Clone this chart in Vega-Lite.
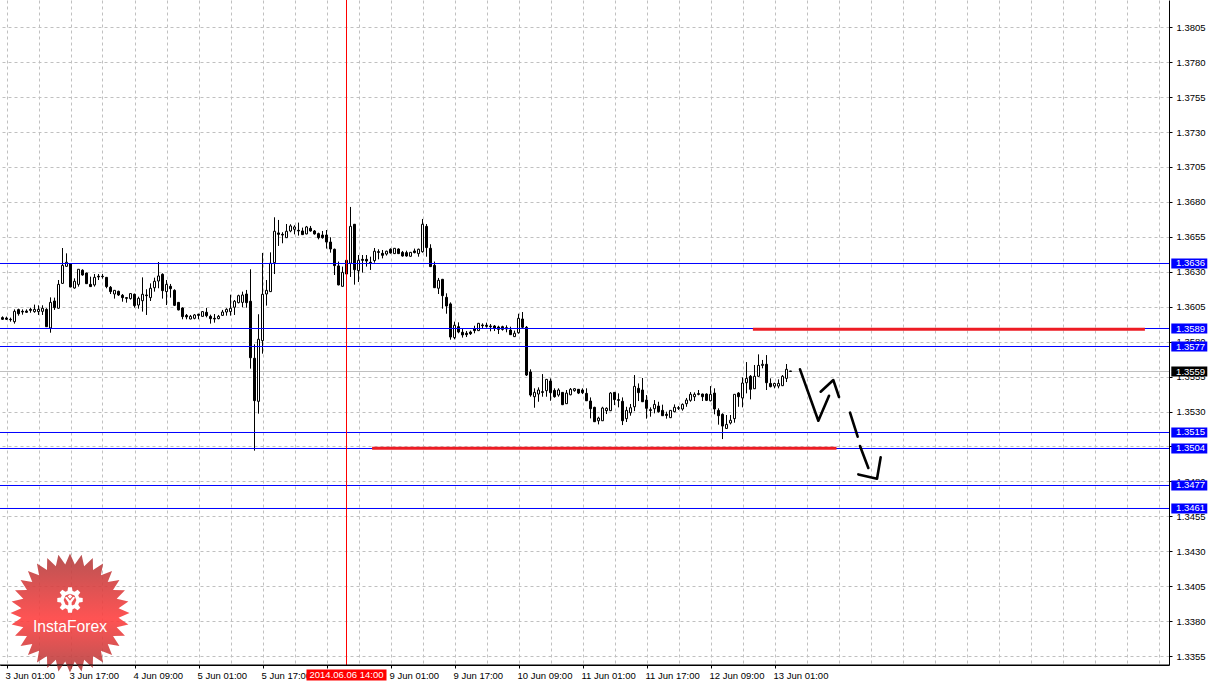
{"$schema":"https://vega.github.io/schema/vega-lite/v6.json","width":1169,"height":665,"autosize":"none","padding":{"left":0,"top":0,"right":42,"bottom":19},"background":"white","view":{"stroke":null},
"config":{"font":"Liberation Sans","axis":{"labelFont":"Liberation Sans","labelFontSize":9.5,"labelColor":"#000000"}},
"datasets":{
"candles":[
{"i":-1,"o":1.35972,"h":1.35981,"l":1.35955,"c":1.3596},{"i":0,"o":1.35969,"h":1.35979,"l":1.35955,"c":1.3596},{"i":1,"o":1.3596,"h":1.35972,"l":1.35943,"c":1.35957},{"i":2,"o":1.35943,"h":1.36031,"l":1.35929,"c":1.36017},{"i":3,"o":1.36029,"h":1.36036,"l":1.35986,"c":1.36},{"i":4,"o":1.36017,"h":1.36031,"l":1.35993,"c":1.36012},{"i":5,"o":1.36019,"h":1.36031,"l":1.36007,"c":1.3601},{"i":6,"o":1.36031,"h":1.36043,"l":1.36007,"c":1.36024},{"i":7,"o":1.36015,"h":1.36065,"l":1.36007,"c":1.36031},{"i":8,"o":1.36015,"h":1.3606,"l":1.35991,"c":1.36031},{"i":9,"o":1.36017,"h":1.3606,"l":1.35991,"c":1.36039},{"i":10,"o":1.36031,"h":1.36039,"l":1.35905,"c":1.35907},{"i":11,"o":1.35898,"h":1.36117,"l":1.35864,"c":1.36081},{"i":12,"o":1.36091,"h":1.36115,"l":1.36027,"c":1.36043},{"i":13,"o":1.36039,"h":1.36241,"l":1.36036,"c":1.3621},{"i":14,"o":1.36217,"h":1.3647,"l":1.36215,"c":1.36346},{"i":15,"o":1.36339,"h":1.36432,"l":1.36337,"c":1.36368},{"i":16,"o":1.36356,"h":1.36361,"l":1.36189,"c":1.36191},{"i":17,"o":1.36184,"h":1.36253,"l":1.36179,"c":1.36232},{"i":18,"o":1.3621,"h":1.36318,"l":1.36194,"c":1.36318},{"i":19,"o":1.36311,"h":1.36318,"l":1.36272,"c":1.36277},{"i":20,"o":1.36291,"h":1.36294,"l":1.36213,"c":1.36215},{"i":21,"o":1.3621,"h":1.36265,"l":1.36191,"c":1.36194},{"i":22,"o":1.36206,"h":1.36284,"l":1.36194,"c":1.3626},{"i":23,"o":1.36268,"h":1.36284,"l":1.36241,"c":1.36263},{"i":24,"o":1.36268,"h":1.36284,"l":1.36251,"c":1.36265},{"i":25,"o":1.3626,"h":1.36263,"l":1.36182,"c":1.36194},{"i":26,"o":1.36189,"h":1.36198,"l":1.36141,"c":1.36158},{"i":27,"o":1.36141,"h":1.3617,"l":1.36108,"c":1.36167},{"i":28,"o":1.3616,"h":1.36165,"l":1.36127,"c":1.36134},{"i":29,"o":1.36132,"h":1.36141,"l":1.36086,"c":1.36115},{"i":30,"o":1.36115,"h":1.36117,"l":1.36079,"c":1.3611},{"i":31,"o":1.36108,"h":1.36146,"l":1.36101,"c":1.36144},{"i":32,"o":1.36139,"h":1.36144,"l":1.36043,"c":1.36058},{"i":33,"o":1.36062,"h":1.36122,"l":1.36036,"c":1.3611},{"i":34,"o":1.36093,"h":1.3626,"l":1.36015,"c":1.36139},{"i":35,"o":1.36134,"h":1.36175,"l":1.35991,"c":1.36129},{"i":36,"o":1.36115,"h":1.36217,"l":1.36091,"c":1.36182},{"i":37,"o":1.36186,"h":1.36258,"l":1.36158,"c":1.36232},{"i":38,"o":1.36234,"h":1.3637,"l":1.36182,"c":1.3627},{"i":39,"o":1.36282,"h":1.36289,"l":1.36108,"c":1.36165},{"i":40,"o":1.36158,"h":1.36241,"l":1.36062,"c":1.3621},{"i":41,"o":1.36196,"h":1.36213,"l":1.36115,"c":1.36179},{"i":42,"o":1.36167,"h":1.36175,"l":1.36055,"c":1.3606},{"i":43,"o":1.36081,"h":1.36084,"l":1.36024,"c":1.36027},{"i":44,"o":1.36041,"h":1.36046,"l":1.3596,"c":1.35979},{"i":45,"o":1.35988,"h":1.35998,"l":1.3596,"c":1.35977},{"i":46,"o":1.35962,"h":1.35991,"l":1.3596,"c":1.35981},{"i":47,"o":1.35967,"h":1.35998,"l":1.3596,"c":1.35991},{"i":48,"o":1.35996,"h":1.36,"l":1.3596,"c":1.35988},{"i":49,"o":1.35981,"h":1.36019,"l":1.35979,"c":1.36015},{"i":50,"o":1.3601,"h":1.36041,"l":1.35974,"c":1.35986},{"i":51,"o":1.35981,"h":1.35993,"l":1.35929,"c":1.35965},{"i":52,"o":1.35967,"h":1.35998,"l":1.35936,"c":1.35962},{"i":53,"o":1.35965,"h":1.35991,"l":1.3596,"c":1.35981},{"i":54,"o":1.35988,"h":1.36027,"l":1.35984,"c":1.36012},{"i":55,"o":1.36012,"h":1.36039,"l":1.35986,"c":1.36031},{"i":56,"o":1.36015,"h":1.36136,"l":1.35986,"c":1.36039},{"i":57,"o":1.36046,"h":1.36098,"l":1.35991,"c":1.36089},{"i":58,"o":1.36079,"h":1.36136,"l":1.36074,"c":1.36129},{"i":59,"o":1.36081,"h":1.36158,"l":1.36046,"c":1.36134},{"i":60,"o":1.36141,"h":1.3617,"l":1.36043,"c":1.36079},{"i":61,"o":1.36089,"h":1.36318,"l":1.35607,"c":1.35685},{"i":62,"o":1.35681,"h":1.35781,"l":1.3502,"c":1.35378},{"i":63,"o":1.35373,"h":1.35996,"l":1.35285,"c":1.35817},{"i":64,"o":1.35807,"h":1.36435,"l":1.35714,"c":1.36139},{"i":65,"o":1.36141,"h":1.36241,"l":1.36058,"c":1.36167},{"i":66,"o":1.36158,"h":1.36439,"l":1.36155,"c":1.36361},{"i":67,"o":1.36365,"h":1.3669,"l":1.36284,"c":1.3659},{"i":68,"o":1.36578,"h":1.36671,"l":1.36485,"c":1.36568},{"i":69,"o":1.36568,"h":1.36583,"l":1.36504,"c":1.36563},{"i":70,"o":1.36544,"h":1.36642,"l":1.36542,"c":1.3659},{"i":71,"o":1.36592,"h":1.3664,"l":1.36583,"c":1.36628},{"i":72,"o":1.36604,"h":1.36633,"l":1.36568,"c":1.36621},{"i":73,"o":1.36597,"h":1.36652,"l":1.36559,"c":1.36592},{"i":74,"o":1.36592,"h":1.36616,"l":1.36563,"c":1.36566},{"i":75,"o":1.36571,"h":1.36628,"l":1.36568,"c":1.36621},{"i":76,"o":1.36611,"h":1.36628,"l":1.36587,"c":1.36592},{"i":77,"o":1.36592,"h":1.36599,"l":1.36566,"c":1.36571},{"i":78,"o":1.36573,"h":1.3658,"l":1.36532,"c":1.36544},{"i":79,"o":1.36563,"h":1.36592,"l":1.36537,"c":1.36544},{"i":80,"o":1.36563,"h":1.36599,"l":1.36466,"c":1.36513},{"i":81,"o":1.36513,"h":1.36547,"l":1.36437,"c":1.36463},{"i":82,"o":1.36461,"h":1.36466,"l":1.36277,"c":1.36344},{"i":83,"o":1.36342,"h":1.36373,"l":1.36203,"c":1.36206},{"i":84,"o":1.36196,"h":1.36337,"l":1.36194,"c":1.36296},{"i":85,"o":1.36382,"h":1.36456,"l":1.36282,"c":1.36284},{"i":86,"o":1.36361,"h":1.36764,"l":1.36263,"c":1.36625},{"i":87,"o":1.3664,"h":1.36642,"l":1.36208,"c":1.36315},{"i":88,"o":1.36308,"h":1.3642,"l":1.36227,"c":1.36382},{"i":89,"o":1.36389,"h":1.3642,"l":1.36294,"c":1.36382},{"i":90,"o":1.36389,"h":1.3642,"l":1.36337,"c":1.36377},{"i":91,"o":1.36368,"h":1.36408,"l":1.36313,"c":1.36363},{"i":92,"o":1.3638,"h":1.3647,"l":1.36365,"c":1.36447},{"i":93,"o":1.36444,"h":1.36461,"l":1.36389,"c":1.36439},{"i":94,"o":1.36432,"h":1.36456,"l":1.36396,"c":1.36418},{"i":95,"o":1.36427,"h":1.36451,"l":1.36416,"c":1.36447},{"i":96,"o":1.36461,"h":1.36468,"l":1.3643,"c":1.36435},{"i":97,"o":1.3643,"h":1.3647,"l":1.36427,"c":1.36468},{"i":98,"o":1.36463,"h":1.36468,"l":1.36427,"c":1.3643},{"i":99,"o":1.36439,"h":1.36449,"l":1.36408,"c":1.36413},{"i":100,"o":1.36437,"h":1.36451,"l":1.36408,"c":1.36413},{"i":101,"o":1.36411,"h":1.36442,"l":1.36408,"c":1.36439},{"i":102,"o":1.36449,"h":1.36466,"l":1.36432,"c":1.36437},{"i":103,"o":1.3643,"h":1.36466,"l":1.36408,"c":1.36461},{"i":104,"o":1.36444,"h":1.36678,"l":1.36437,"c":1.3664},{"i":105,"o":1.36625,"h":1.36642,"l":1.36408,"c":1.36473},{"i":106,"o":1.36468,"h":1.36497,"l":1.36334,"c":1.36337},{"i":107,"o":1.36346,"h":1.36373,"l":1.36184,"c":1.36186},{"i":108,"o":1.36182,"h":1.36256,"l":1.36141,"c":1.36239},{"i":109,"o":1.36246,"h":1.36249,"l":1.36036,"c":1.36129},{"i":110,"o":1.36117,"h":1.36146,"l":1.36,"c":1.36055},{"i":111,"o":1.3607,"h":1.36081,"l":1.35814,"c":1.35833},{"i":112,"o":1.35829,"h":1.35943,"l":1.35817,"c":1.35917},{"i":113,"o":1.35907,"h":1.35938,"l":1.3586,"c":1.35869},{"i":114,"o":1.35867,"h":1.35895,"l":1.35829,"c":1.35848},{"i":115,"o":1.3586,"h":1.35876,"l":1.35833,"c":1.3585},{"i":116,"o":1.35869,"h":1.35879,"l":1.35848,"c":1.35857},{"i":117,"o":1.35891,"h":1.35914,"l":1.3586,"c":1.35879},{"i":118,"o":1.35879,"h":1.35934,"l":1.35876,"c":1.35931},{"i":119,"o":1.35919,"h":1.35931,"l":1.35891,"c":1.35914},{"i":120,"o":1.35917,"h":1.35936,"l":1.359,"c":1.3591},{"i":121,"o":1.35912,"h":1.35926,"l":1.35874,"c":1.35907},{"i":122,"o":1.35912,"h":1.35919,"l":1.35876,"c":1.35895},{"i":123,"o":1.35905,"h":1.35914,"l":1.35855,"c":1.35888},{"i":124,"o":1.35907,"h":1.35914,"l":1.35879,"c":1.35888},{"i":125,"o":1.359,"h":1.35917,"l":1.35867,"c":1.35891},{"i":126,"o":1.35883,"h":1.35907,"l":1.35848,"c":1.3585},{"i":127,"o":1.35836,"h":1.35879,"l":1.35833,"c":1.3586},{"i":128,"o":1.35864,"h":1.36,"l":1.35857,"c":1.35967},{"i":129,"o":1.35962,"h":1.36012,"l":1.35893,"c":1.35903},{"i":130,"o":1.35903,"h":1.35912,"l":1.35554,"c":1.35561},{"i":131,"o":1.35583,"h":1.35602,"l":1.35406,"c":1.35418},{"i":132,"o":1.35406,"h":1.35466,"l":1.35327,"c":1.35437},{"i":133,"o":1.35425,"h":1.35473,"l":1.3537,"c":1.35454},{"i":134,"o":1.35442,"h":1.35568,"l":1.35406,"c":1.35437},{"i":135,"o":1.35449,"h":1.35533,"l":1.35406,"c":1.3553},{"i":136,"o":1.35518,"h":1.35537,"l":1.35377,"c":1.35435},{"i":137,"o":1.35451,"h":1.35466,"l":1.35399,"c":1.35406},{"i":138,"o":1.35418,"h":1.35466,"l":1.35406,"c":1.35454},{"i":139,"o":1.35437,"h":1.35437,"l":1.35346,"c":1.35349},{"i":140,"o":1.35356,"h":1.35454,"l":1.35354,"c":1.35432},{"i":141,"o":1.3542,"h":1.35468,"l":1.35416,"c":1.35459},{"i":142,"o":1.35449,"h":1.35468,"l":1.35442,"c":1.35463},{"i":143,"o":1.35459,"h":1.35461,"l":1.35425,"c":1.35432},{"i":144,"o":1.35454,"h":1.35466,"l":1.35425,"c":1.35435},{"i":145,"o":1.3543,"h":1.35466,"l":1.35375,"c":1.35377},{"i":146,"o":1.35375,"h":1.35401,"l":1.35251,"c":1.3532},{"i":147,"o":1.3533,"h":1.35334,"l":1.35225,"c":1.35227},{"i":148,"o":1.35234,"h":1.35263,"l":1.35208,"c":1.35253},{"i":149,"o":1.35234,"h":1.35334,"l":1.35232,"c":1.35325},{"i":150,"o":1.35306,"h":1.3533,"l":1.35282,"c":1.35323},{"i":151,"o":1.35306,"h":1.35439,"l":1.35303,"c":1.35432},{"i":152,"o":1.35437,"h":1.35439,"l":1.35346,"c":1.35385},{"i":153,"o":1.35385,"h":1.3543,"l":1.3533,"c":1.3538},{"i":154,"o":1.35373,"h":1.35401,"l":1.35203,"c":1.35234},{"i":155,"o":1.35249,"h":1.35334,"l":1.35225,"c":1.35308},{"i":156,"o":1.35291,"h":1.35354,"l":1.3527,"c":1.35327},{"i":157,"o":1.35334,"h":1.35561,"l":1.35303,"c":1.3548},{"i":158,"o":1.35466,"h":1.35501,"l":1.35375,"c":1.35435},{"i":159,"o":1.35454,"h":1.3554,"l":1.35368,"c":1.3537},{"i":160,"o":1.35382,"h":1.35418,"l":1.35249,"c":1.35323},{"i":161,"o":1.35313,"h":1.3533,"l":1.35263,"c":1.35308},{"i":162,"o":1.3532,"h":1.35382,"l":1.35287,"c":1.35351},{"i":163,"o":1.35339,"h":1.3537,"l":1.35292,"c":1.35299},{"i":164,"o":1.35308,"h":1.35349,"l":1.35268,"c":1.3527},{"i":165,"o":1.3528,"h":1.35299,"l":1.35249,"c":1.35272},{"i":166,"o":1.35256,"h":1.35311,"l":1.35253,"c":1.35308},{"i":167,"o":1.35299,"h":1.35351,"l":1.35294,"c":1.3533},{"i":168,"o":1.35327,"h":1.35339,"l":1.35311,"c":1.35323},{"i":169,"o":1.35318,"h":1.35358,"l":1.35306,"c":1.35351},{"i":170,"o":1.35356,"h":1.35397,"l":1.35334,"c":1.35382},{"i":171,"o":1.3538,"h":1.35439,"l":1.3537,"c":1.35423},{"i":172,"o":1.35406,"h":1.35437,"l":1.35375,"c":1.35423},{"i":173,"o":1.35428,"h":1.35454,"l":1.35416,"c":1.35423},{"i":174,"o":1.35425,"h":1.35428,"l":1.35375,"c":1.35406},{"i":175,"o":1.35425,"h":1.3543,"l":1.35375,"c":1.3538},{"i":176,"o":1.35377,"h":1.35482,"l":1.35373,"c":1.35423},{"i":177,"o":1.35432,"h":1.35466,"l":1.3528,"c":1.35318},{"i":178,"o":1.35308,"h":1.35323,"l":1.35206,"c":1.3527},{"i":179,"o":1.3528,"h":1.35287,"l":1.35103,"c":1.35196},{"i":180,"o":1.35179,"h":1.35275,"l":1.35175,"c":1.35208},{"i":181,"o":1.35218,"h":1.35275,"l":1.35208,"c":1.35237},{"i":182,"o":1.35249,"h":1.35423,"l":1.3522,"c":1.35423},{"i":183,"o":1.35432,"h":1.35439,"l":1.35334,"c":1.35406},{"i":184,"o":1.35397,"h":1.35544,"l":1.3533,"c":1.35504},{"i":185,"o":1.35506,"h":1.35654,"l":1.3543,"c":1.35537},{"i":186,"o":1.35552,"h":1.35561,"l":1.35387,"c":1.35459},{"i":187,"o":1.35463,"h":1.35633,"l":1.35461,"c":1.35552},{"i":188,"o":1.35552,"h":1.35709,"l":1.35549,"c":1.3563},{"i":189,"o":1.3563,"h":1.35669,"l":1.35609,"c":1.35638},{"i":190,"o":1.35638,"h":1.35704,"l":1.35454,"c":1.35506},{"i":191,"o":1.35501,"h":1.35537,"l":1.35473,"c":1.35478},{"i":192,"o":1.35482,"h":1.35506,"l":1.35466,"c":1.35501},{"i":193,"o":1.35482,"h":1.3553,"l":1.35466,"c":1.35501},{"i":194,"o":1.35485,"h":1.35561,"l":1.35482,"c":1.35552},{"i":195,"o":1.35537,"h":1.3564,"l":1.35511,"c":1.35602},{"i":196,"o":1.3559,"h":1.3559,"l":1.35587,"c":1.35587}
],
"levels":[{"p":1.363593},{"p":1.358941},{"p":1.357653},{"p":1.351499},{"p":1.350354},{"p":1.347706},{"p":1.34606}],
"tags":[{"p":1.363593,"k":"level"},{"p":1.358941,"k":"level"},{"p":1.357653,"k":"level"},{"p":1.351499,"k":"level"},{"p":1.350354,"k":"level"},{"p":1.347706,"k":"level"},{"p":1.34606,"k":"level"},{"p":1.355864,"k":"bid"}],
"zones":[{"a":186.6,"b":284.6,"p":1.35889},{"a":91.4,"b":207.5,"p":1.35037}],
"path":[
{"s":"A","n":1,"i":198.375,"p":1.35602},{"s":"A","n":2,"i":202.96,"p":1.35234},{"s":"A","n":3,"i":205.63,"p":1.35413},
{"s":"B","n":1,"i":203.54,"p":1.35442},{"s":"B","n":2,"i":206.71,"p":1.35525},{"s":"B","n":3,"i":208.13,"p":1.35404},
{"s":"C","n":1,"i":210.88,"p":1.35292},{"s":"C","n":2,"i":212.79,"p":1.3512},
{"s":"D","n":1,"i":213.375,"p":1.35053},{"s":"D","n":2,"i":215.46,"p":1.34896},
{"s":"E","n":1,"i":212.96,"p":1.3485},{"s":"E","n":2,"i":217.63,"p":1.34819},{"s":"E","n":3,"i":218.54,"p":1.34972}]
},
"layer":[
{"data":{"values":[{"p":1.355864}]},"mark":{"type":"rule","color":"#c0c0c0","strokeWidth":1},"encoding":{"y":{"field":"p","type":"quantitative","scale":{"domain":[1.33486,1.38245],"nice":false,"zero":false,"padding":0},"axis":{"title":null,"orient":"right","tickCount":40,"values":[1.3355,1.338,1.3405,1.343,1.3455,1.348,1.3505,1.353,1.3555,1.358,1.3605,1.363,1.3655,1.368,1.3705,1.373,1.3755,1.378,1.3805],"format":".4f","grid":true,"gridColor":"#c0c0c0","gridDash":[3,3],"gridWidth":1,"domain":true,"domainColor":"#000000","domainWidth":1,"ticks":true,"tickColor":"#000000","tickSize":3,"labelPadding":4,"labelOverlap":false,"labelFlush":false,"labelBound":false,"labelAlign":"left","labelBaseline":"middle"}}}},
{"data":{"name":"candles"},"mark":{"type":"rule","color":"#000000","strokeWidth":1},"encoding":{"x":{"field":"i","type":"quantitative","scale":{"domain":[-1.625,290.625],"nice":false,"zero":false,"padding":0},"axis":{"title":null,"orient":"bottom","tickCount":60,"values":[0,8,16,24,32,40,48,56,64,72,80,88,96,104,112,120,128,136,144,152,160,168,176,184,192,200,208,216,224,232,240,248,256,264,272,280,288],"labelExpr":"({'0':'3 Jun 01:00','16':'3 Jun 17:00','32':'4 Jun 09:00','48':'5 Jun 01:00','64':'5 Jun 17:00','80':'6 Jun 09:00','96':'9 Jun 01:00','112':'9 Jun 17:00','128':'10 Jun 09:00','144':'11 Jun 01:00','160':'11 Jun 17:00','176':'12 Jun 09:00','192':'13 Jun 01:00'})[datum.value] || ''","grid":true,"gridColor":"#c0c0c0","gridDash":[3,3],"gridWidth":1,"domain":true,"domainColor":"#000000","domainWidth":1,"ticks":true,"tickColor":"#000000","tickSize":3,"tickOpacity":{"condition":{"test":"datum.value % 16 === 0 && datum.value <= 192","value":1},"value":0},"labelPadding":2,"labelOffset":-1.5,"labelOverlap":false,"labelFlush":false,"labelBound":false,"labelAlign":"left"}},"y":{"field":"l","type":"quantitative","scale":{"domain":[1.33486,1.38245],"nice":false,"zero":false,"padding":0},"axis":{"orient":"right"}},"y2":{"field":"h"}}},
{"data":{"name":"candles"},"mark":{"type":"bar","width":2,"stroke":"#000000","strokeWidth":1},"encoding":{"x":{"field":"i","type":"quantitative","scale":{"domain":[-1.625,290.625],"nice":false,"zero":false,"padding":0}},"y":{"field":"o","type":"quantitative","scale":{"domain":[1.33486,1.38245],"nice":false,"zero":false,"padding":0},"axis":{"orient":"right"}},"y2":{"field":"c"},"fill":{"condition":{"test":"datum.c > datum.o","value":"#ffffff"},"value":"#000000"}}},
{"data":{"name":"levels"},"mark":{"type":"rule","color":"#0000ff","strokeWidth":1},"encoding":{"y":{"field":"p","type":"quantitative","scale":{"domain":[1.33486,1.38245],"nice":false,"zero":false,"padding":0},"axis":{"orient":"right"}}}},
{"data":{"name":"zones"},"mark":{"type":"rule","color":"#ed1c24","strokeWidth":3},"encoding":{"x":{"field":"a","type":"quantitative","scale":{"domain":[-1.625,290.625],"nice":false,"zero":false,"padding":0}},"x2":{"field":"b"},"y":{"field":"p","type":"quantitative","scale":{"domain":[1.33486,1.38245],"nice":false,"zero":false,"padding":0},"axis":{"orient":"right"}}}},
{"data":{"name":"path"},"mark":{"type":"line","color":"#000000","strokeWidth":2.6,"strokeCap":"round","strokeJoin":"round"},"encoding":{"x":{"field":"i","type":"quantitative","scale":{"domain":[-1.625,290.625],"nice":false,"zero":false,"padding":0}},"y":{"field":"p","type":"quantitative","scale":{"domain":[1.33486,1.38245],"nice":false,"zero":false,"padding":0},"axis":{"orient":"right"}},"detail":{"field":"s"},"order":{"field":"n"}}},
{"data":{"values":[{"i":85}]},"mark":{"type":"rule","color":"#ff0000","strokeWidth":1},"encoding":{"x":{"field":"i","type":"quantitative","scale":{"domain":[-1.625,290.625],"nice":false,"zero":false,"padding":0}}}},
{"data":{"values":[{"i":15.875,"p":1.33858}]},"mark":{"type":"point","filled":true,"size":14161,"opacity":0.9,"strokeWidth":0,"shape":"M1 0 L.816 .08 L.981 .195 L.785 .238 L.924 .383 L.723 .387 L.831 .556 L.634 .52 L.707 .707 L.52 .634 L.556 .831 L.387 .723 L.383 .924 L.238 .785 L.195 .981 L.08 .816 L0 1 L-.08 .816 L-.195 .981 L-.238 .785 L-.383 .924 L-.387 .723 L-.556 .831 L-.52 .634 L-.707 .707 L-.634 .52 L-.831 .556 L-.723 .387 L-.924 .383 L-.785 .238 L-.981 .195 L-.816 .08 L-1 0 L-.816 -.08 L-.981 -.195 L-.785 -.238 L-.924 -.383 L-.723 -.387 L-.831 -.556 L-.634 -.52 L-.707 -.707 L-.52 -.634 L-.556 -.831 L-.387 -.723 L-.383 -.924 L-.238 -.785 L-.195 -.981 L-.08 -.816 L0 -1 L.08 -.816 L.195 -.981 L.238 -.785 L.383 -.924 L.387 -.723 L.556 -.831 L.52 -.634 L.707 -.707 L.634 -.52 L.831 -.556 L.723 -.387 L.924 -.383 L.785 -.238 L.981 -.195 L.816 -.08 Z","fill":{"gradient":"linear","x1":0,"y1":0,"x2":0,"y2":1,"stops":[{"offset":0,"color":"#b04040"},{"offset":0.55,"color":"#ff4040"},{"offset":1,"color":"#b04040"}]}},"encoding":{"x":{"field":"i","type":"quantitative","scale":{"domain":[-1.625,290.625],"nice":false,"zero":false,"padding":0}},"y":{"field":"p","type":"quantitative","scale":{"domain":[1.33486,1.38245],"nice":false,"zero":false,"padding":0},"axis":{"orient":"right"}}}},
{"data":{"values":[{"i":15.875,"p":1.33951}]},"mark":{"type":"point","filled":true,"size":645,"opacity":1,"color":"#ffffff","strokeWidth":0,"shape":"M-.15 -1 L.15 -1 L.2 -.72 L.368 -.65 L.601 -.813 L.813 -.601 L.65 -.368 L.72 -.2 L1 -.15 L1 .15 L.72 .2 L.65 .368 L.813 .601 L.601 .813 L.368 .65 L.2 .72 L.15 1 L-.15 1 L-.2 .72 L-.368 .65 L-.601 .813 L-.813 .601 L-.65 .368 L-.72 .2 L-1 .15 L-1 -.15 L-.72 -.2 L-.65 -.368 L-.813 -.601 L-.601 -.813 L-.368 -.65 L-.2 -.72 Z M0 -.5 L-.354 -.354 L-.5 0 L-.354 .354 L0 .5 L.354 .354 L.5 0 L.354 -.354 Z M-.18 -.28 L0 -.46 L.18 -.28 L0 -.1 Z M-.4 -.2 L-.25 -.25 L0 .05 L.25 -.25 L.4 -.2 L.13 .2 L.13 .98 L-.13 .98 L-.13 .2 Z"},"encoding":{"x":{"field":"i","type":"quantitative","scale":{"domain":[-1.625,290.625],"nice":false,"zero":false,"padding":0}},"y":{"field":"p","type":"quantitative","scale":{"domain":[1.33486,1.38245],"nice":false,"zero":false,"padding":0},"axis":{"orient":"right"}}}},
{"data":{"values":[{"i":15.875,"p":1.33758,"t":"InstaForex"}]},"mark":{"type":"text","color":"#ffffff","font":"Liberation Sans","fontSize":15.7,"align":"center","baseline":"middle"},"encoding":{"x":{"field":"i","type":"quantitative","scale":{"domain":[-1.625,290.625],"nice":false,"zero":false,"padding":0}},"y":{"field":"p","type":"quantitative","scale":{"domain":[1.33486,1.38245],"nice":false,"zero":false,"padding":0},"axis":{"orient":"right"}},"text":{"field":"t"}}},
{"data":{"values":[{"p":1.33486}]},"mark":{"type":"rule","color":"#000000","strokeWidth":1},"encoding":{"y":{"field":"p","type":"quantitative","scale":{"domain":[1.33486,1.38245],"nice":false,"zero":false,"padding":0},"axis":{"orient":"right"}}}},
{"data":{"name":"tags"},"mark":{"type":"rect","width":36,"height":10},"encoding":{"x":{"datum":295.7,"type":"quantitative","scale":{"domain":[-1.625,290.625],"nice":false,"zero":false,"padding":0}},"y":{"field":"p","type":"quantitative","scale":{"domain":[1.33486,1.38245],"nice":false,"zero":false,"padding":0},"axis":{"orient":"right"}},"color":{"field":"k","type":"nominal","scale":{"domain":["level","bid"],"range":["#0000ff","#000000"]},"legend":null}}},
{"data":{"name":"tags"},"mark":{"type":"text","color":"#ffffff","font":"Liberation Sans","fontSize":9.5,"align":"left","baseline":"middle"},"encoding":{"x":{"datum":292.4,"type":"quantitative","scale":{"domain":[-1.625,290.625],"nice":false,"zero":false,"padding":0}},"y":{"field":"p","type":"quantitative","scale":{"domain":[1.33486,1.38245],"nice":false,"zero":false,"padding":0},"axis":{"orient":"right"}},"text":{"field":"p","type":"quantitative","format":".4f"}}},
{"data":{"values":[{"i":85,"p":1.33414}]},"mark":{"type":"rect","width":80,"height":11,"color":"#ff0000"},"encoding":{"x":{"field":"i","type":"quantitative","scale":{"domain":[-1.625,290.625],"nice":false,"zero":false,"padding":0}},"y":{"field":"p","type":"quantitative","scale":{"domain":[1.33486,1.38245],"nice":false,"zero":false,"padding":0},"axis":{"orient":"right"}}}},
{"data":{"values":[{"i":85,"p":1.33414,"t":"2014.06.06 14:00"}]},"mark":{"type":"text","color":"#ffffff","font":"Liberation Sans","fontSize":9.5,"align":"center","baseline":"middle"},"encoding":{"x":{"field":"i","type":"quantitative","scale":{"domain":[-1.625,290.625],"nice":false,"zero":false,"padding":0}},"y":{"field":"p","type":"quantitative","scale":{"domain":[1.33486,1.38245],"nice":false,"zero":false,"padding":0},"axis":{"orient":"right"}},"text":{"field":"t"}}}
]}
